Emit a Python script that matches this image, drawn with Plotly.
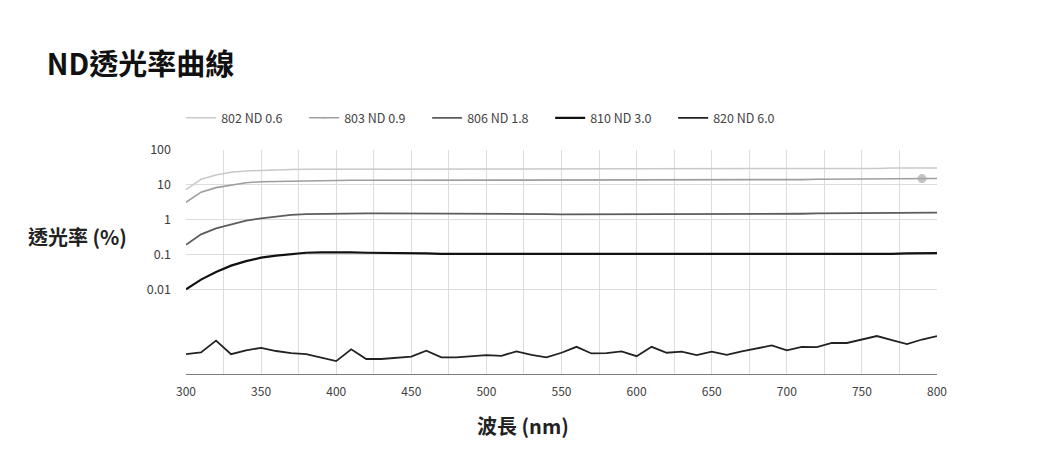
import plotly.graph_objects as go

# wavelength grid (nm)
wavelength = list(range(300, 801, 10))

# transmittance (%), log10 values
log_802 = [0.86, 1.16, 1.28, 1.36, 1.40, 1.42, 1.43, 1.44, 1.45, 1.45,
           1.45, 1.45, 1.45, 1.45, 1.45, 1.45, 1.45, 1.45, 1.45, 1.45,
           1.45, 1.45, 1.45, 1.45, 1.45, 1.45, 1.45, 1.45, 1.45, 1.45,
           1.45, 1.45, 1.45, 1.45, 1.45, 1.46, 1.46, 1.46, 1.46, 1.46,
           1.46, 1.46, 1.47, 1.47, 1.47, 1.47, 1.47, 1.48, 1.48, 1.48, 1.48]
log_803 = [0.50, 0.79, 0.92, 1.00, 1.06, 1.09, 1.10, 1.11, 1.12, 1.12,
           1.13, 1.13, 1.13, 1.13, 1.13, 1.13, 1.13, 1.13, 1.13, 1.13,
           1.13, 1.13, 1.13, 1.13, 1.13, 1.13, 1.13, 1.13, 1.13, 1.14,
           1.14, 1.14, 1.14, 1.14, 1.14, 1.14, 1.14, 1.15, 1.15, 1.15,
           1.15, 1.15, 1.16, 1.16, 1.16, 1.16, 1.17, 1.17, 1.17, 1.18, 1.18]
log_806 = [-0.72, -0.42, -0.25, -0.13, -0.03, 0.04, 0.10, 0.14, 0.16, 0.17,
           0.18, 0.18, 0.18, 0.18, 0.18, 0.18, 0.17, 0.17, 0.17, 0.17,
           0.17, 0.16, 0.16, 0.16, 0.16, 0.15, 0.15, 0.15, 0.15, 0.15,
           0.15, 0.15, 0.16, 0.16, 0.16, 0.16, 0.16, 0.17, 0.17, 0.17,
           0.17, 0.17, 0.18, 0.18, 0.18, 0.19, 0.19, 0.19, 0.20, 0.20, 0.20]
log_810 = [-2.00, -1.72, -1.50, -1.32, -1.19, -1.09, -1.03, -0.98, -0.95, -0.94,
           -0.93, -0.94, -0.95, -0.95, -0.96, -0.96, -0.97, -0.98, -0.98, -0.98,
           -0.98, -0.98, -0.98, -0.98, -0.98, -0.98, -0.98, -0.98, -0.98, -0.98,
           -0.99, -0.99, -0.99, -0.99, -0.99, -0.99, -1.00, -1.00, -1.00, -1.00,
           -1.00, -1.00, -1.00, -1.00, -1.00, -0.99, -0.99, -0.98, -0.97, -0.97, -0.96]
log_820 = [-3.86, -3.81, -3.47, -3.86, -3.75, -3.68, -3.77, -3.83, -3.86, -3.95,
           -4.06, -3.72, -4.00, -4.00, -3.97, -3.93, -3.76, -3.95, -3.95, -3.92,
           -3.89, -3.91, -3.78, -3.88, -3.95, -3.82, -3.65, -3.84, -3.83, -3.78,
           -3.92, -3.65, -3.82, -3.79, -3.89, -3.79, -3.88, -3.78, -3.69, -3.61,
           -3.75, -3.65, -3.66, -3.54, -3.54, -3.45, -3.34, -3.46, -3.57, -3.44, -3.34]

series = [
    ('802 ND 0.6', log_802, '#c9c9c9', 1.5),
    ('803 ND 0.9', log_803, '#9e9e9e', 1.6),
    ('806 ND 1.8', log_806, '#5c5c5c', 1.8),
    ('810 ND 3.0', log_810, '#111111', 2.2),
    ('820 ND 6.0', log_820, '#222222', 1.8),
]

y_ticks = [100, 10, 1, 0.1, 0.01]
y_ticktext = ['100', '10', '1', '0.1', '0.01']
x_ticks = list(range(300, 801, 50))

fig = go.Figure()
for name, logs, color, width in series:
    vals = [10 ** v for v in logs]
    trace = go.Scatter(x=wavelength, y=vals, mode='lines', name=name,
                       line=dict(color=color, width=width))
    if name == '803 ND 0.9':
        # grey dot at 790 nm seen in the picture
        sizes = [9 if w == 790 else 0 for w in wavelength]
        trace = go.Scatter(x=wavelength, y=vals, mode='lines+markers', name=name,
                           line=dict(color=color, width=width),
                           marker=dict(size=sizes, color='#a8a8a8', line_width=0))
    fig.add_trace(trace)

fig.update_layout(
    width=1050, height=450,
    margin=dict(l=178, r=121, t=142, b=84, autoexpand=False),
    paper_bgcolor='white', plot_bgcolor='white',
    font=dict(family='Noto Sans CJK TC', color='#595959', size=12),
    title=dict(text='<b>ND透光率曲線</b>', x=0.037, xanchor='left', y=0.873, yanchor='middle',
               font=dict(size=29, color='#111111', family='Noto Sans CJK TC')),
    legend=dict(orientation='h', x=0.403, xanchor='center', y=1.142, yanchor='middle',
                font=dict(size=12.5, color='#444444'), itemwidth=30, entrywidthmode='pixels',
                entrywidth=78),
    showlegend=True,
)
fig.update_xaxes(range=[300, 800], tickvals=x_ticks, showgrid=True, gridcolor='#dcdcdc',
                 gridwidth=1, minor=dict(dtick=25, tick0=300, showgrid=True, gridcolor='#dcdcdc'),
                 showline=True, linecolor='#7f7f7f', linewidth=1.2, ticks='', zeroline=False,
                 tickfont=dict(size=12, color='#404040'), automargin=False,
                 ticklabelstandoff=6)
fig.update_yaxes(type='log', range=[-4.43, 2], tickvals=y_ticks, ticktext=y_ticktext,
                 showgrid=True, gridcolor='#dcdcdc', gridwidth=1, showline=False,
                 zeroline=False, ticks='', ticklabelstandoff=14, automargin=False,
                 tickfont=dict(size=12.5, color='#404040'))
fig.add_annotation(text='<b>透光率 (%)</b>', xref='paper', yref='paper', x=-0.144, y=0.613,
                   xanchor='center', yanchor='middle', showarrow=False,
                   font=dict(size=20, color='#222222', family='Noto Sans CJK TC'))
fig.add_annotation(text='<b>波長 (nm)</b>', xref='paper', yref='paper', x=0.449, y=-0.231,
                   xanchor='center', yanchor='middle', showarrow=False,
                   font=dict(size=20, color='#222222', family='Noto Sans CJK TC'))

fig.write_html('out.html')
